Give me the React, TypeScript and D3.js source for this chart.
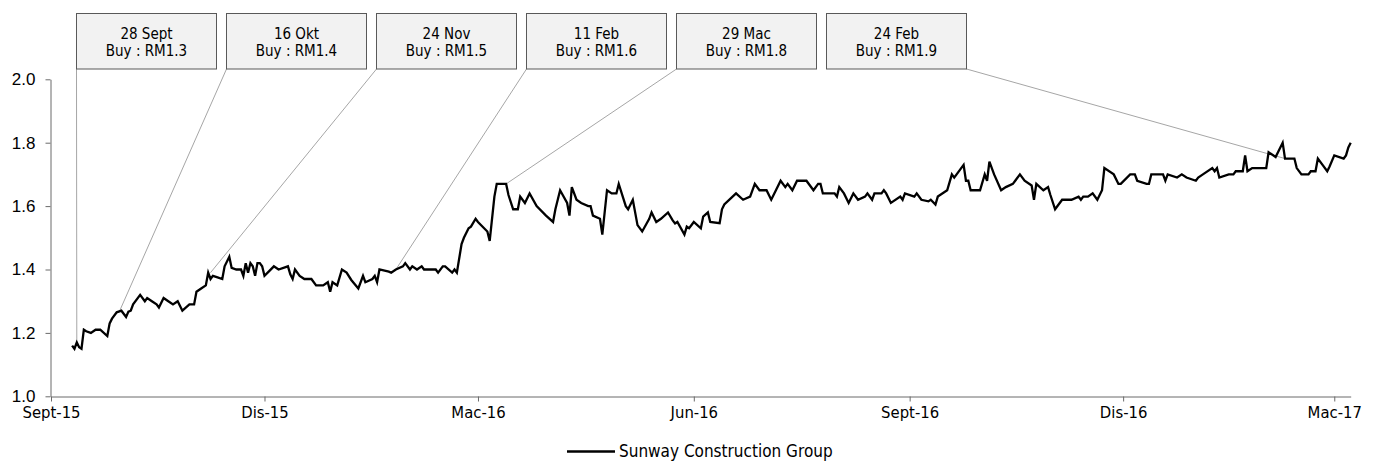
import { useEffect, useRef } from "react";
import * as d3 from "d3";

// x values are days counted from 17 Sept 2015 (the first axis tick)
const START = new Date(2015, 8, 17);
const END = "2017-03-24";

const dayOffsets = [
  9, 10, 11, 12, 13, 14, 15, 17, 19, 21, 24, 25, 26, 28, 30, 32, 33, 34, 35, 38,
  40, 41, 43, 45, 46, 48, 50, 52, 54, 56, 59, 61, 62, 64, 66, 67, 68, 69, 71, 73,
  74, 76, 77, 79, 81, 82, 83, 84, 85, 86, 87, 88, 89, 90, 91, 93, 95, 97, 101, 102,
  103, 104, 106, 108, 111, 113, 116, 118, 119, 120, 122, 124, 126, 128, 131, 133, 134, 137, 138, 139,
  140, 144, 145, 147, 150, 151, 153, 154, 156, 158, 159, 164, 165, 167, 168, 171, 172, 173, 175, 176,
  178, 179, 181, 182, 186, 187, 189, 190, 194, 195, 197, 199, 200, 202, 204, 207, 211, 214, 215, 217,
  220, 221, 222, 224, 226, 229, 230, 231, 234, 235, 237, 239, 241, 242, 245, 246, 248, 250, 252, 255,
  256, 258, 260, 263, 265, 266, 267, 270, 271, 272, 274, 277, 278, 280, 281, 285, 286, 287, 292, 295,
  298, 300, 302, 305, 307, 309, 311, 313, 314, 316, 318, 322, 325, 327, 328, 329, 334, 335, 336, 338,
  340, 342, 344, 347, 348, 350, 351, 354, 355, 356, 358, 362, 363, 364, 368, 369, 371, 374, 375, 377,
  378, 382, 384, 385, 389, 390, 391, 392, 396, 398, 399, 400, 402, 405, 407, 410, 411, 413, 415, 418,
  419, 420, 423, 425, 426, 428, 431, 435, 438, 439, 440, 442, 444, 446, 448, 449, 453, 455, 456, 460,
  462, 463, 467, 468, 469, 474, 475, 476, 480, 482, 484, 488, 489, 491, 495, 496, 497, 498, 502, 504,
  505, 508, 509, 510, 512, 518, 519, 522, 525, 526, 530, 531, 533, 536, 537, 539, 540, 542, 544, 545,
  547, 551, 552, 553, 554,
];

const prices = [
  1.16, 1.15, 1.17, 1.155, 1.15, 1.21, 1.205, 1.2, 1.21, 1.21, 1.19, 1.23, 1.245, 1.265, 1.27, 1.25, 1.267, 1.27, 1.29, 1.32,
  1.3, 1.31, 1.3, 1.29, 1.28, 1.31, 1.3, 1.29, 1.3, 1.27, 1.29, 1.29, 1.33, 1.34, 1.35, 1.39, 1.37, 1.38, 1.375, 1.37,
  1.41, 1.44, 1.405, 1.4, 1.4, 1.38, 1.42, 1.39, 1.42, 1.41, 1.38, 1.42, 1.42, 1.41, 1.38, 1.395, 1.41, 1.4, 1.41, 1.385,
  1.37, 1.4, 1.38, 1.37, 1.37, 1.35, 1.35, 1.36, 1.33, 1.36, 1.35, 1.4, 1.39, 1.367, 1.34, 1.38, 1.36, 1.37, 1.38, 1.36,
  1.4, 1.393, 1.39, 1.4, 1.41, 1.42, 1.4, 1.41, 1.4, 1.41, 1.4, 1.4, 1.39, 1.41, 1.41, 1.39, 1.4, 1.39, 1.48, 1.5,
  1.53, 1.535, 1.56, 1.55, 1.52, 1.49, 1.63, 1.67, 1.67, 1.635, 1.59, 1.59, 1.63, 1.61, 1.64, 1.6, 1.57, 1.55, 1.59, 1.65,
  1.61, 1.57, 1.66, 1.62, 1.61, 1.6, 1.6, 1.57, 1.56, 1.51, 1.65, 1.64, 1.64, 1.67, 1.6, 1.59, 1.62, 1.54, 1.52, 1.56,
  1.58, 1.55, 1.56, 1.58, 1.555, 1.545, 1.55, 1.51, 1.535, 1.53, 1.55, 1.53, 1.567, 1.58, 1.55, 1.546, 1.59, 1.605, 1.64, 1.62,
  1.63, 1.67, 1.65, 1.65, 1.62, 1.65, 1.68, 1.66, 1.67, 1.65, 1.68, 1.68, 1.65, 1.67, 1.67, 1.64, 1.64, 1.63, 1.66, 1.64,
  1.61, 1.64, 1.62, 1.63, 1.64, 1.62, 1.64, 1.64, 1.65, 1.64, 1.61, 1.63, 1.62, 1.64, 1.63, 1.64, 1.62, 1.615, 1.62, 1.605,
  1.63, 1.65, 1.7, 1.69, 1.73, 1.68, 1.68, 1.65, 1.65, 1.7, 1.68, 1.74, 1.7, 1.65, 1.66, 1.67, 1.68, 1.7, 1.68, 1.665,
  1.62, 1.67, 1.65, 1.66, 1.635, 1.59, 1.62, 1.62, 1.63, 1.62, 1.63, 1.63, 1.64, 1.62, 1.65, 1.72, 1.7, 1.67, 1.67, 1.7,
  1.7, 1.68, 1.67, 1.67, 1.7, 1.7, 1.68, 1.7, 1.69, 1.7, 1.69, 1.68, 1.69, 1.7, 1.72, 1.71, 1.72, 1.69, 1.7, 1.7,
  1.71, 1.71, 1.76, 1.71, 1.72, 1.72, 1.77, 1.755, 1.8, 1.75, 1.75, 1.72, 1.7, 1.7, 1.71, 1.71, 1.75, 1.73, 1.71, 1.725,
  1.76, 1.75, 1.76, 1.785, 1.8,
];

const tickDates = ["2015-09-17", "2015-12-17", "2016-03-17", "2016-06-17", "2016-09-17", "2016-12-17", "2017-03-17"];
const tickLabels = ["Sept-15", "Dis-15", "Mac-16", "Jun-16", "Sept-16", "Dis-16", "Mac-17"];
const yTicks = [1.0, 1.2, 1.4, 1.6, 1.8, 2.0];

// buy calls: label, price target, and the date / price each one points at
const callLabels = ["28 Sept", "16 Okt", "24 Nov", "11 Feb", "29 Mac", "24 Feb"];
const callTargets = ["Buy : RM1.3", "Buy : RM1.4", "Buy : RM1.5", "Buy : RM1.6", "Buy : RM1.8", "Buy : RM1.9"];
const callDates = ["2015-09-28", "2015-10-16", "2015-11-24", "2016-02-11", "2016-03-29", "2017-02-24"];
const callPrices = [1.16, 1.265, 1.39, 1.4, 1.67, 1.75];

const seriesName = "Sunway Construction Group";

const W = 1381;
const H = 463;
const condensed = "'DejaVu Sans Condensed', 'DejaVu Sans', sans-serif";

export default function App() {
  const svgRef = useRef<SVGSVGElement | null>(null);

  useEffect(() => {
    const el = svgRef.current;
    if (!el) return;
    el.innerHTML = "";
    const svg = d3.select(el);
    const parse = d3.timeParse("%Y-%m-%d");
    const ticks = tickDates.map((d) => parse(d)!);
    const day = (n: number) => d3.timeDay.offset(START, n);

    const x = d3.scaleTime().domain([START, parse(END)!]).range([51, 1350.7]);
    const y = d3.scaleLinear().domain([1, 2]).range([396.3, 79.3]);

    // y axis
    const yAxis = svg
      .append("g")
      .attr("transform", "translate(50.5,0)")
      .call(
        d3
          .axisLeft(y)
          .tickValues(yTicks)
          .tickFormat(d3.format(".1f"))
          .tickSize(5)
          .tickSizeOuter(0)
          .tickPadding(10)
      );
    yAxis.select(".domain").attr("stroke", "#6b6b6b");
    yAxis.selectAll(".tick line").attr("stroke", "#6b6b6b");
    yAxis
      .selectAll(".tick text")
      .attr("fill", "#000")
      .style("font-family", "'Liberation Sans', Arial, sans-serif")
      .style("font-size", "17px");

    // x axis
    const xAxis = svg
      .append("g")
      .attr("transform", "translate(0,396.5)")
      .call(
        d3
          .axisBottom(x)
          .tickValues(ticks)
          .tickFormat((_, i) => tickLabels[i])
          .tickSize(5)
          .tickSizeOuter(0)
          .tickPadding(5)
      );
    xAxis.select(".domain").attr("stroke", "#6b6b6b");
    xAxis.selectAll(".tick line").attr("stroke", "#6b6b6b");
    xAxis
      .selectAll(".tick text")
      .attr("fill", "#000")
      .style("font-family", condensed)
      .style("font-size", "16.5px");

    // connectors from boxes to the line
    const boxX = (i: number) => 76.5 + 150 * i;
    const boxY = 13.5;
    const boxW = 140;
    const boxH = 55.5;

    svg
      .append("g")
      .selectAll("line")
      .data(callDates)
      .join("line")
      .attr("x1", (_, i) => (i === callDates.length - 1 ? boxX(i) + boxW : boxX(i)))
      .attr("y1", boxY + boxH)
      .attr("x2", (d) => x(parse(d)!))
      .attr("y2", (_, i) => y(callPrices[i]))
      .attr("stroke", "#a6a6a6")
      .attr("stroke-width", 1);

    // price line
    const line = d3
      .line<number>()
      .x((_, i) => x(day(dayOffsets[i])))
      .y((d) => y(d));

    svg
      .append("path")
      .datum(prices)
      .attr("d", line)
      .attr("fill", "none")
      .attr("stroke", "#000")
      .attr("stroke-width", 2.3)
      .attr("stroke-linejoin", "miter");

    // call boxes
    const boxes = svg
      .append("g")
      .selectAll("g")
      .data(callLabels)
      .join("g")
      .attr("transform", (_, i) => `translate(${boxX(i)},${boxY})`);

    boxes
      .append("rect")
      .attr("width", boxW)
      .attr("height", boxH)
      .attr("fill", "#f2f2f2")
      .attr("stroke", "#595959")
      .attr("stroke-width", 1);

    boxes
      .append("text")
      .attr("x", boxW / 2)
      .attr("y", 25.5)
      .attr("text-anchor", "middle")
      .style("font-family", condensed)
      .style("font-size", "15px")
      .text((d) => d);

    boxes
      .append("text")
      .attr("x", boxW / 2)
      .attr("y", 42.5)
      .attr("text-anchor", "middle")
      .style("font-family", condensed)
      .style("font-size", "15px")
      .text((_, i) => callTargets[i]);

    // legend
    const legend = svg.append("g").attr("transform", "translate(567,451.5)");
    legend.append("line").attr("x1", 0).attr("x2", 48).attr("stroke", "#000").attr("stroke-width", 2.3);
    legend
      .append("text")
      .attr("x", 52)
      .attr("dy", "0.35em")
      .style("font-family", condensed)
      .style("font-size", "17px")
      .text(seriesName);
  }, []);

  return (
    <svg
      ref={svgRef}
      width={W}
      height={H}
      style={{ position: "absolute", left: 0, top: 0, background: "#fff" }}
    />
  );
}
